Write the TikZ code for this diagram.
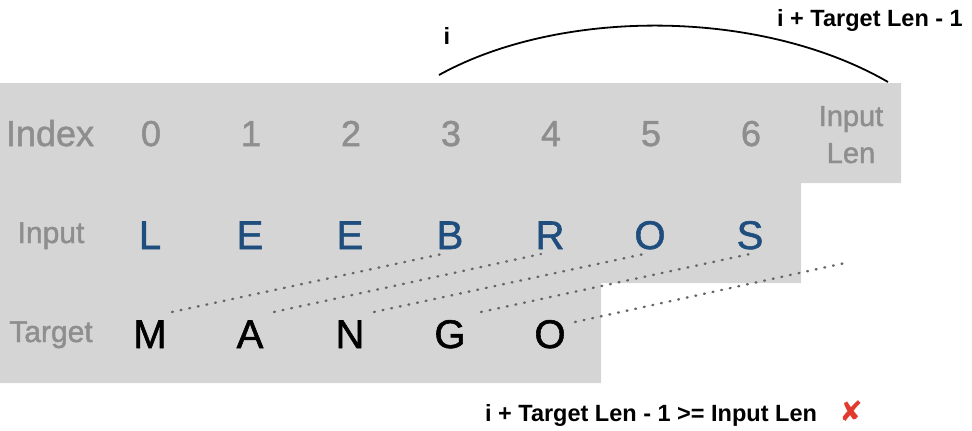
\documentclass[tikz,border=0pt]{standalone}
\usepackage{fontspec}
\setmainfont{Liberation Sans}
\newfontfamily\heavyfont{Liberation Sans}[FakeBold=1.4]
\newfontfamily\symfont{DejaVu Sans}
\usetikzlibrary{calc}
\definecolor{bggray}{HTML}{D5D5D5}
\definecolor{labgray}{HTML}{8E8E8E}
\definecolor{inblue}{HTML}{1F4E7E}
\definecolor{dotgray}{HTML}{666666}
\definecolor{xred}{HTML}{E03B2E}
\begin{document}
\begin{tikzpicture}[x=1pt,y=-1pt,
  idx/.style={font=\heavyfont\fontsize{36}{36}\selectfont, text=labgray, inner sep=0, anchor=base},
  rowlab/.style={font=\heavyfont\fontsize{30}{30}\selectfont, text=labgray, inner sep=0, anchor=base},
  lenlab/.style={font=\heavyfont\fontsize{29}{29}\selectfont, text=labgray, inner sep=0, anchor=base},
  inch/.style={font=\heavyfont\fontsize{40}{40}\selectfont, text=inblue, inner sep=0, anchor=base},
  tch/.style={font=\heavyfont\fontsize{40}{40}\selectfont, text=black, inner sep=0, anchor=base},
  boldlab/.style={font=\fontsize{23.5}{23.5}\selectfont\bfseries, inner sep=0, anchor=base},
  dots/.style={draw=dotgray, line width=2.4pt, line cap=round, dash pattern=on 0.9pt off 7.9pt},
  arcline/.style={draw=black, line width=1.8pt},
]
\useasboundingbox (0,0) rectangle (972,431);
\fill[bggray] (0,83) -- (901,83) -- (901,183) -- (801,183) -- (801,283) -- (601,283) -- (601,383) -- (0,383) -- cycle;

% Index row
\node[idx] (index) at (50,146) {Index};
\foreach \d in {0,...,6} {
  \node[idx] (d\d) at (151+100*\d,146) {\d};
}
\node[lenlab] (lenA) at (851,126) {Input};
\node[lenlab] (lenB) at (851,163) {Len};

% Input row
\node[rowlab] (inputlab) at (51,243) {Input};
\node[inch] (in0) at (150,249) {L};
\node[inch] (in1) at (250,249) {E};
\node[inch] (in2) at (350,249) {E};
\node[inch] (in3) at (450,249) {B};
\node[inch] (in4) at (550,249) {R};
\node[inch] (in5) at (650,249) {O};
\node[inch] (in6) at (750,249) {S};

% Target row
\node[rowlab] (targetlab) at (51,342) {Target};
\node[tch] (t0) at (150,348) {M};
\node[tch] (t1) at (250,348) {A};
\node[tch] (t2) at (350,348) {N};
\node[tch] (t3) at (450,348) {G};
\node[tch] (t4) at (550,348) {O};

% dotted alignment lines
\coordinate (beyond) at (845,263);
\draw[dots] ($(t0.base)+(22,-36)$) -- ($(in3.base)+(-8,5)$);
\draw[dots] ($(t1.base)+(24,-36)$) -- ($(in4.base)+(-9,5)$);
\draw[dots] ($(t2.base)+(24,-36)$) -- ($(in5.base)+(-6,5)$);
\draw[dots] ($(t3.base)+(31,-36)$) -- ($(in6.base)+(0,5)$);
\draw[dots] ($(t4.base)+(25,-26)$) -- (beyond);

% arc on top
\coordinate (arcL) at (439,75);
\coordinate (arcR) at (888,82);
\draw[arcline] (arcL) .. controls (560,8) and (760,8) .. (arcR);
\node[boldlab] (ilab) at (447,44) {i};
\node[boldlab] (endlab) at (870,27) {i + Target Len - 1};

% condition
\node[boldlab] (cond) at (651,421) {i + Target Len - 1 >= Input Len};
\node[font=\symfont\fontsize{28}{28}\selectfont, text=xred, inner sep=0] (cross) at (851,411) {✘};
\end{tikzpicture}
\end{document}
